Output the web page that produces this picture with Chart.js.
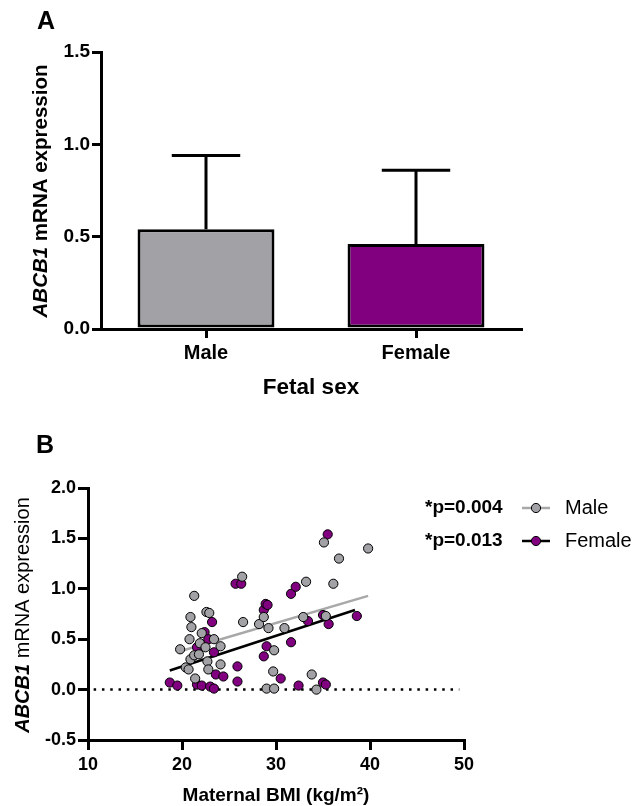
<!DOCTYPE html>
<html>
<head>
<meta charset="utf-8">
<script src="https://cdn.jsdelivr.net/npm/chart.js@4.4.0/dist/chart.umd.min.js"></script>
<style>
  body { margin: 0; background: #fff; }
  .panel { position: absolute; left: 0; width: 634px; }
  #panelA { top: 0; height: 420px; }
  #panelB { top: 420px; height: 386px; }
</style>
</head>
<body>
<div class="panel" id="panelA"><canvas id="barChart" width="634" height="420"></canvas></div>
<div class="panel" id="panelB"><canvas id="scatterChart" width="634" height="386"></canvas></div>
<script>
// Panel A - bar chart data
const sexLabels = ['Male', 'Female'];
const barMeans = [0.54, 0.46];
const barSD = [0.40, 0.40];

// Panel B - scatter data (maternal BMI vs expression)
const maleBMI = [21.3, 20.9, 21.0, 19.8, 20.8, 20.4, 20.7, 20.9, 21.3, 21.8, 21.9, 22.1, 22.6, 22.9, 22.5, 22.7, 22.8, 23.4, 24.1, 24.1,
                 21.4, 26.4, 26.5, 28.2, 28.7, 29.2, 29.8, 29.7, 29.0, 29.8, 30.9, 32.9, 33.2, 33.8, 34.3, 35.1, 35.3, 36.1, 36.7, 39.8];
const maleExpr = [0.93, 0.72, 0.62, 0.40, 0.50, 0.22, 0.20, 0.30, 0.34, 0.35, 0.46, 0.56, 0.77, 0.76, 0.42, 0.28, 0.20, 0.50, 0.43, 0.25,
                  0.11, 1.12, 0.67, 0.65, 0.72, 0.61, 0.39, 0.18, 0.01, 0.01, 0.61, 0.72, 1.07, 0.15, 0.00, 1.46, 0.73, 1.05, 1.30, 1.40];
const femaleBMI = [18.7, 19.5, 21.6, 22.4, 22.8, 23.2, 23.4, 21.6, 22.1, 23.0, 23.4, 23.6, 24.4, 25.9, 25.9, 25.7, 26.3,
                   28.7, 28.9, 29.1, 29.0, 28.7, 30.5, 31.6, 31.6, 32.1, 32.4, 33.4, 35.0, 35.6, 35.0, 35.3, 35.5, 38.6];
const femaleExpr = [0.07, 0.04, 0.42, 0.57, 0.50, 0.67, 0.37, 0.05, 0.04, 0.03, 0.01, 0.15, 0.13, 0.23, 0.08, 1.05, 1.05,
                    0.79, 0.85, 0.84, 0.43, 0.33, 0.11, 0.47, 0.95, 1.02, 0.04, 0.68, 0.74, 0.65, 0.07, 0.05, 1.54, 0.73];

// regression line end points
const maleFitBMI = [19.8, 39.8];
const maleFitExpr = [0.38, 0.93];
const femaleFitBMI = [18.7, 38.4];
const femaleFitExpr = [0.19, 0.79];
const zeroLineBMI = [10.6, 49.5];
const pValues = ['*p=0.004', '*p=0.013'];

const GREY = '#a2a1a6';
const PURPLE = '#800080';
const FONT = '"Liberation Sans", Arial, sans-serif';

Chart.defaults.font.family = FONT;
Chart.defaults.color = '#000';
Chart.defaults.animation = false;

const toPoints = (xs, ys) => xs.map((x, i) => ({ x: x, y: ys[i] }));

// draws "ABCB1 mRNA expression" rotated, with ABCB1 in italics
function drawYTitle(ctx, cx, cy, size, restWeight) {
    const partA = 'ABCB1';
    const partB = ' mRNA expression';
    ctx.save();
    ctx.translate(cx, cy);
    ctx.rotate(-Math.PI / 2);
    ctx.textBaseline = 'middle';
    ctx.textAlign = 'left';
    ctx.fillStyle = '#000';
    ctx.font = 'italic bold ' + size + 'px ' + FONT;
    const wA = ctx.measureText(partA).width;
    ctx.font = restWeight + ' ' + size + 'px ' + FONT;
    const wB = ctx.measureText(partB).width;
    const start = -(wA + wB) / 2;
    ctx.font = 'italic bold ' + size + 'px ' + FONT;
    ctx.fillText(partA, start, 0);
    ctx.font = restWeight + ' ' + size + 'px ' + FONT;
    ctx.fillText(partB, start + wA, 0);
    ctx.restore();
}

// error bars (mean + SD) for panel A
const errorBars = {
    id: 'errorBars',
    afterDatasetsDraw(chart) {
        const { ctx, scales: { y } } = chart;
        const meta = chart.getDatasetMeta(0);
        ctx.save();
        ctx.strokeStyle = '#000';
        ctx.lineWidth = 3;
        meta.data.forEach((bar, i) => {
            const top = y.getPixelForValue(barMeans[i] + barSD[i]);
            const base = y.getPixelForValue(barMeans[i]);
            const half = bar.width * 0.25;
            ctx.beginPath();
            ctx.moveTo(bar.x, base);
            ctx.lineTo(bar.x, top);
            ctx.moveTo(bar.x - half, top);
            ctx.lineTo(bar.x + half, top);
            ctx.stroke();
        });
        ctx.restore();
    }
};

const panelAText = {
    id: 'panelAText',
    afterDraw(chart) {
        const ctx = chart.ctx;
        const area = chart.chartArea;
        ctx.save();
        ctx.fillStyle = '#000';
        ctx.textBaseline = 'middle';
        ctx.font = 'bold 25px ' + FONT;
        ctx.textAlign = 'left';
        ctx.fillText('A', 37, 22);
        ctx.font = 'bold 22.5px ' + FONT;
        ctx.textAlign = 'center';
        ctx.fillText('Fetal sex', (area.left + area.right) / 2, 388);
        ctx.restore();
        drawYTitle(ctx, 41, 191, 20.5, 'bold');
    }
};

new Chart(document.getElementById('barChart'), {
    type: 'bar',
    data: {
        labels: sexLabels,
        datasets: [{
            data: barMeans,
            backgroundColor: [GREY, PURPLE],
            borderColor: '#000',
            borderWidth: 3,
            borderSkipped: false,
            barPercentage: 0.652,
            categoryPercentage: 1.0
        }]
    },
    options: {
        responsive: false,
        layout: { padding: { left: 0, top: 52, right: 113, bottom: 0 } },
        plugins: { legend: { display: false }, tooltip: { enabled: false } },
        scales: {
            x: {
                grid: { offset: false, drawOnChartArea: false, color: '#000', lineWidth: 3, tickLength: 9 },
                border: { color: '#000', width: 3 },
                ticks: { font: { size: 20, weight: 'bold' }, padding: 3 },
                afterFit: (scale) => { scale.height = 91; }
            },
            y: {
                min: 0,
                max: 1.5,
                grid: { drawOnChartArea: false, color: '#000', lineWidth: 3, tickLength: 9 },
                border: { color: '#000', width: 3 },
                ticks: { stepSize: 0.5, font: { size: 19, weight: 'bold' }, padding: 2, callback: (v) => v.toFixed(1) },
                afterFit: (scale) => { scale.width = 101; }
            }
        }
    },
    plugins: [errorBars, panelAText]
});

const panelBText = {
    id: 'panelBText',
    afterDraw(chart) {
        const ctx = chart.ctx;
        const area = chart.chartArea;
        ctx.save();
        ctx.fillStyle = '#000';
        ctx.textBaseline = 'middle';
        ctx.font = 'bold 25px ' + FONT;
        ctx.textAlign = 'left';
        ctx.fillText('B', 36, 26);
        ctx.font = 'bold 19px ' + FONT;
        ctx.textAlign = 'center';
        ctx.fillText('Maternal BMI (kg/m\u00B2)', (area.left + area.right) / 2, 376);

        // legend with p values
        const rows = [
            { p: pValues[0], label: 'Male', line: '#a8a8a8', fill: GREY, y: 88 },
            { p: pValues[1], label: 'Female', line: '#000', fill: PURPLE, y: 121 }
        ];
        rows.forEach((r) => {
            ctx.font = 'bold 19px ' + FONT;
            ctx.textAlign = 'left';
            ctx.fillStyle = '#000';
            ctx.fillText(r.p, 425, r.y);
            ctx.strokeStyle = r.line;
            ctx.lineWidth = 2.5;
            ctx.beginPath();
            ctx.moveTo(522, r.y);
            ctx.lineTo(550, r.y);
            ctx.stroke();
            ctx.beginPath();
            ctx.arc(536, r.y, 4.6, 0, Math.PI * 2);
            ctx.fillStyle = r.fill;
            ctx.fill();
            ctx.lineWidth = 1;
            ctx.strokeStyle = '#000';
            ctx.stroke();
            ctx.fillStyle = '#000';
            ctx.font = '20px ' + FONT;
            ctx.fillText(r.label, 565, r.y);
        });
        ctx.restore();
        drawYTitle(ctx, 23, 195, 20, 'normal');
    }
};

const pointStyle = (fill) => ({
    showLine: false,
    pointRadius: 4.6,
    pointBackgroundColor: fill,
    pointBorderColor: '#000',
    pointBorderWidth: 1
});

new Chart(document.getElementById('scatterChart'), {
    type: 'scatter',
    data: {
        datasets: [
            Object.assign({ label: 'Male', data: toPoints(maleBMI, maleExpr) }, pointStyle(GREY)),
            Object.assign({ label: 'Female', data: toPoints(femaleBMI, femaleExpr) }, pointStyle(PURPLE)),
            {
                label: 'Male fit', data: toPoints(maleFitBMI, maleFitExpr),
                showLine: true, borderColor: '#a8a8a8', borderWidth: 2.5, pointRadius: 0
            },
            {
                label: 'Female fit', data: toPoints(femaleFitBMI, femaleFitExpr),
                showLine: true, borderColor: '#000', borderWidth: 2.5, pointRadius: 0
            },
            {
                label: 'zero', data: toPoints(zeroLineBMI, [0, 0]),
                showLine: true, borderColor: '#000', borderWidth: 2.5, borderDash: [2.5, 5.8], pointRadius: 0
            }
        ]
    },
    options: {
        responsive: false,
        layout: { padding: { left: 0, top: 68, right: 170, bottom: 0 } },
        plugins: { legend: { display: false }, tooltip: { enabled: false } },
        scales: {
            x: {
                type: 'linear',
                min: 10,
                max: 50,
                grid: { drawOnChartArea: false, color: '#000', lineWidth: 3, tickLength: 10 },
                border: { color: '#000', width: 3 },
                ticks: { stepSize: 10, font: { size: 18, weight: 'bold' }, padding: 4 },
                afterFit: (scale) => { scale.height = 66; }
            },
            y: {
                min: -0.5,
                max: 2.0,
                grid: { drawOnChartArea: false, color: '#000', lineWidth: 3, tickLength: 10 },
                border: { color: '#000', width: 3 },
                ticks: { stepSize: 0.5, font: { size: 18, weight: 'bold' }, padding: 2, callback: (v) => v.toFixed(1) },
                afterFit: (scale) => { scale.width = 88; }
            }
        }
    },
    plugins: [panelBText]
});
</script>
</body>
</html>
